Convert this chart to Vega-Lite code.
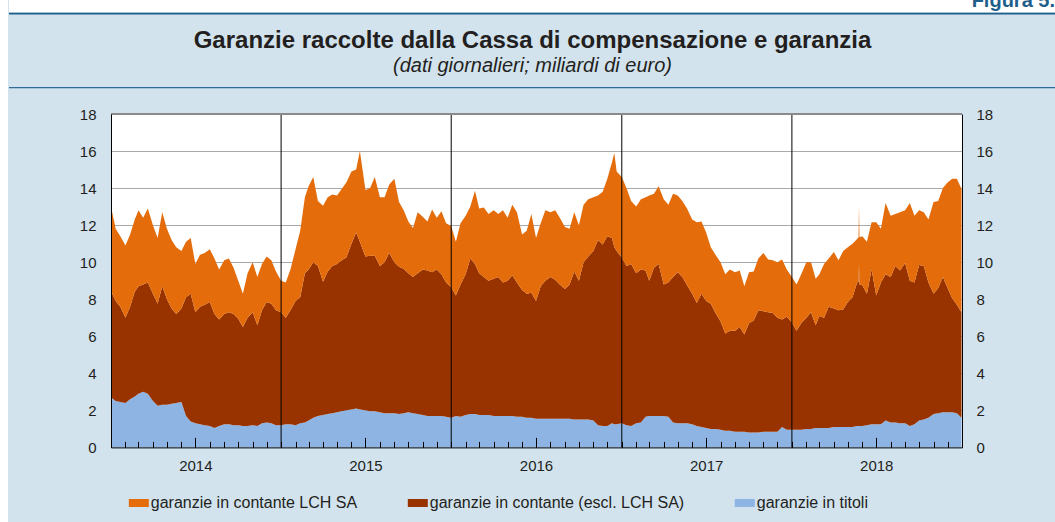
{
  "$schema": "https://vega.github.io/schema/vega-lite/v6.json",
  "background": "#d2e3ee",
  "padding": 0,
  "spacing": 0,
  "config": {
    "font": "Liberation Sans",
    "view": {"stroke": null},
    "axis": {"labelFont": "Liberation Sans", "labelFontSize": 15, "labelColor": "#231f20"},
    "legend": {"labelFont": "Liberation Sans"}
  },
  "hconcat": [
    {
      "width": 8,
      "height": 522,
      "data": {"values": [{}]},
      "mark": {"type": "rect", "color": "white"},
      "encoding": {}
    },
    {
      "columns": 1,
      "spacing": 0,
      "concat": [
        {
          "width": 945,
          "height": 12,
          "data": {"values": [{}]},
          "layer": [
            {
              "mark": {"type": "rect", "color": "white"},
              "encoding": {
                "x": {"datum": 0, "type": "quantitative", "scale": {"domain": [0, 1047], "range": [-102, 945], "nice": false, "zero": false}, "axis": null},
                "x2": {"datum": 1047}
              }
            },
            {
              "mark": {"type": "text", "text": "Figura 5.", "fontSize": 20, "fontWeight": "bold", "color": "#1f5f8b", "align": "right", "baseline": "alphabetic", "clip": true, "dx": -1},
              "encoding": {
                "x": {"datum": 1047, "type": "quantitative", "axis": null},
                "y": {"datum": 5, "type": "quantitative", "scale": {"domain": [0, 12], "nice": false}, "axis": null}
              }
            }
          ]
        },
        {
          "width": 945,
          "height": 93.8,
          "data": {"values": [{}]},
          "layer": [
            {
              "mark": {"type": "rule", "color": "#1f5f8b", "strokeWidth": 1.8},
              "encoding": {
                "x": {"datum": 0, "type": "quantitative", "scale": {"domain": [0, 1047], "range": [-102, 945], "nice": false, "zero": false}, "axis": null},
                "x2": {"datum": 1047},
                "y": {"datum": 0.6, "type": "quantitative", "scale": {"domain": [0, 93.8], "range": [0, 93.8], "nice": false, "zero": false}, "axis": null}
              }
            },
            {
              "mark": {"type": "rule", "color": "#2f6d97", "strokeWidth": 1.3},
              "encoding": {
                "x": {"datum": 0, "type": "quantitative", "axis": null},
                "x2": {"datum": 1047},
                "y": {"datum": 74.7, "type": "quantitative", "axis": null}
              }
            },
            {
              "mark": {"type": "text", "text": "Garanzie raccolte dalla Cassa di compensazione e garanzia", "fontSize": 24, "fontWeight": "bold", "color": "#231f20", "align": "center", "baseline": "alphabetic"},
              "encoding": {
                "x": {"datum": 523.5, "type": "quantitative", "axis": null},
                "y": {"datum": 34.8, "type": "quantitative", "axis": null}
              }
            },
            {
              "mark": {"type": "text", "text": "(dati giornalieri; miliardi di euro)", "fontSize": 20, "fontStyle": "italic", "color": "#231f20", "align": "center", "baseline": "alphabetic"},
              "encoding": {
                "x": {"datum": 523.5, "type": "quantitative", "axis": null},
                "y": {"datum": 58.8, "type": "quantitative", "axis": null}
              }
            }
          ]
        },
        {
          "width": 851,
          "height": 333.4,
          "view": {"fill": "white", "stroke": null},
          "layer": [
            {
              "data": {"values": [
                {"d":"2014-01-01","a":2.7,"b":5.75,"c":4.55},
                {"d":"2014-01-11","a":2.5,"b":5.4,"c":3.9},
                {"d":"2014-01-21","a":2.45,"b":5.15,"c":3.8},
                {"d":"2014-02-01","a":2.4,"b":4.6,"c":3.9},
                {"d":"2014-02-11","a":2.6,"b":5.0,"c":3.9},
                {"d":"2014-02-21","a":2.75,"b":5.65,"c":3.9},
                {"d":"2014-03-01","a":2.9,"b":5.8,"c":4.1},
                {"d":"2014-03-11","a":3.0,"b":5.8,"c":3.6},
                {"d":"2014-03-21","a":2.9,"b":6.0,"c":4.0},
                {"d":"2014-04-01","a":2.5,"b":5.8,"c":3.7},
                {"d":"2014-04-11","a":2.25,"b":5.5,"c":3.55},
                {"d":"2014-04-21","a":2.3,"b":6.4,"c":4.0},
                {"d":"2014-05-01","a":2.3,"b":5.7,"c":3.8},
                {"d":"2014-05-11","a":2.35,"b":5.15,"c":3.7},
                {"d":"2014-05-21","a":2.4,"b":4.8,"c":3.6},
                {"d":"2014-06-01","a":2.45,"b":5.05,"c":3.1},
                {"d":"2014-06-11","a":1.7,"b":6.4,"c":3.0},
                {"d":"2014-06-21","a":1.4,"b":6.9,"c":3.0},
                {"d":"2014-07-01","a":1.3,"b":6.0,"c":2.6},
                {"d":"2014-07-11","a":1.25,"b":6.35,"c":2.8},
                {"d":"2014-07-21","a":1.2,"b":6.5,"c":2.8},
                {"d":"2014-08-01","a":1.15,"b":6.7,"c":2.85},
                {"d":"2014-08-11","a":1.05,"b":6.15,"c":3.0},
                {"d":"2014-08-21","a":1.15,"b":5.75,"c":2.7},
                {"d":"2014-09-01","a":1.25,"b":5.95,"c":2.9},
                {"d":"2014-09-11","a":1.25,"b":6.05,"c":2.9},
                {"d":"2014-09-21","a":1.2,"b":6.0,"c":2.5},
                {"d":"2014-10-01","a":1.2,"b":5.75,"c":2.05},
                {"d":"2014-10-11","a":1.15,"b":5.35,"c":1.8},
                {"d":"2014-10-21","a":1.15,"b":5.85,"c":2.4},
                {"d":"2014-11-01","a":1.2,"b":6.1,"c":2.7},
                {"d":"2014-11-11","a":1.15,"b":5.45,"c":2.6},
                {"d":"2014-11-21","a":1.3,"b":6.1,"c":2.5},
                {"d":"2014-12-01","a":1.35,"b":6.5,"c":2.45},
                {"d":"2014-12-11","a":1.3,"b":6.45,"c":2.35},
                {"d":"2014-12-21","a":1.2,"b":6.2,"c":2.1},
                {"d":"2015-01-01","a":1.2,"b":6.1,"c":1.7},
                {"d":"2015-01-11","a":1.25,"b":5.75,"c":1.9},
                {"d":"2015-01-21","a":1.25,"b":6.15,"c":2.2},
                {"d":"2015-02-01","a":1.2,"b":6.7,"c":2.8},
                {"d":"2015-02-11","a":1.3,"b":6.8,"c":3.6},
                {"d":"2015-02-21","a":1.35,"b":8.05,"c":4.1},
                {"d":"2015-03-01","a":1.45,"b":8.15,"c":4.5},
                {"d":"2015-03-11","a":1.6,"b":8.4,"c":4.6},
                {"d":"2015-03-21","a":1.7,"b":8.1,"c":3.5},
                {"d":"2015-04-01","a":1.75,"b":7.2,"c":4.1},
                {"d":"2015-04-11","a":1.8,"b":7.7,"c":4.0},
                {"d":"2015-04-21","a":1.85,"b":7.95,"c":3.85},
                {"d":"2015-05-01","a":1.9,"b":8.0,"c":3.7},
                {"d":"2015-05-11","a":1.95,"b":8.15,"c":3.85},
                {"d":"2015-05-21","a":2.0,"b":8.25,"c":4.05},
                {"d":"2015-06-01","a":2.05,"b":8.95,"c":3.9},
                {"d":"2015-06-11","a":2.1,"b":9.5,"c":3.4},
                {"d":"2015-06-19","a":2.05,"b":9.05,"c":4.9},
                {"d":"2015-07-01","a":2.0,"b":8.3,"c":3.6},
                {"d":"2015-07-11","a":1.95,"b":8.4,"c":3.65},
                {"d":"2015-07-21","a":1.95,"b":8.4,"c":4.25},
                {"d":"2015-08-01","a":1.9,"b":7.9,"c":3.7},
                {"d":"2015-08-11","a":1.85,"b":8.15,"c":3.5},
                {"d":"2015-08-21","a":1.85,"b":8.65,"c":3.7},
                {"d":"2015-09-01","a":1.85,"b":8.15,"c":4.5},
                {"d":"2015-09-11","a":1.8,"b":7.95,"c":3.5},
                {"d":"2015-09-21","a":1.85,"b":7.8,"c":3.15},
                {"d":"2015-10-01","a":1.9,"b":7.5,"c":2.8},
                {"d":"2015-10-11","a":1.85,"b":7.35,"c":2.65},
                {"d":"2015-10-21","a":1.8,"b":7.6,"c":3.3},
                {"d":"2015-11-01","a":1.75,"b":7.85,"c":2.85},
                {"d":"2015-11-11","a":1.7,"b":7.85,"c":2.65},
                {"d":"2015-11-21","a":1.7,"b":7.75,"c":3.4},
                {"d":"2015-12-01","a":1.7,"b":7.9,"c":2.8},
                {"d":"2015-12-11","a":1.7,"b":7.65,"c":3.4},
                {"d":"2015-12-21","a":1.65,"b":7.25,"c":3.2},
                {"d":"2016-01-01","a":1.6,"b":7.05,"c":3.3},
                {"d":"2016-01-11","a":1.7,"b":6.5,"c":2.9},
                {"d":"2016-01-21","a":1.65,"b":7.15,"c":3.3},
                {"d":"2016-02-01","a":1.75,"b":7.6,"c":3.15},
                {"d":"2016-02-11","a":1.8,"b":8.4,"c":2.8},
                {"d":"2016-02-21","a":1.8,"b":8.1,"c":3.95},
                {"d":"2016-03-01","a":1.75,"b":7.65,"c":3.5},
                {"d":"2016-03-11","a":1.75,"b":7.45,"c":3.75},
                {"d":"2016-03-21","a":1.75,"b":7.25,"c":3.6},
                {"d":"2016-04-01","a":1.7,"b":7.4,"c":3.7},
                {"d":"2016-04-11","a":1.7,"b":7.5,"c":3.4},
                {"d":"2016-04-21","a":1.7,"b":7.2,"c":3.9},
                {"d":"2016-05-01","a":1.7,"b":7.3,"c":3.4},
                {"d":"2016-05-11","a":1.7,"b":7.6,"c":3.8},
                {"d":"2016-05-21","a":1.65,"b":7.25,"c":3.8},
                {"d":"2016-06-01","a":1.65,"b":6.85,"c":3.0},
                {"d":"2016-06-11","a":1.6,"b":6.7,"c":3.4},
                {"d":"2016-06-21","a":1.6,"b":6.75,"c":4.25},
                {"d":"2016-07-01","a":1.55,"b":6.35,"c":3.4},
                {"d":"2016-07-11","a":1.55,"b":7.15,"c":3.4},
                {"d":"2016-07-21","a":1.55,"b":7.45,"c":3.8},
                {"d":"2016-08-01","a":1.55,"b":7.65,"c":3.5},
                {"d":"2016-08-11","a":1.55,"b":7.5,"c":3.75},
                {"d":"2016-08-21","a":1.55,"b":7.25,"c":3.6},
                {"d":"2016-09-01","a":1.55,"b":7.0,"c":3.35},
                {"d":"2016-09-11","a":1.55,"b":7.25,"c":3.0},
                {"d":"2016-09-21","a":1.5,"b":8.0,"c":3.2},
                {"d":"2016-10-01","a":1.5,"b":7.5,"c":3.0},
                {"d":"2016-10-11","a":1.5,"b":8.5,"c":3.1},
                {"d":"2016-10-21","a":1.5,"b":8.8,"c":3.1},
                {"d":"2016-11-01","a":1.45,"b":9.15,"c":2.9},
                {"d":"2016-11-11","a":1.2,"b":10.0,"c":2.4},
                {"d":"2016-11-21","a":1.15,"b":9.8,"c":2.85},
                {"d":"2016-12-01","a":1.15,"b":10.25,"c":3.1},
                {"d":"2016-12-11","a":1.3,"b":10.0,"c":4.1},
                {"d":"2016-12-16","a":1.25,"b":9.55,"c":5.1},
                {"d":"2016-12-21","a":1.25,"b":9.35,"c":4.3},
                {"d":"2017-01-01","a":1.3,"b":8.95,"c":4.35},
                {"d":"2017-01-11","a":1.2,"b":8.6,"c":4.2},
                {"d":"2017-01-21","a":1.15,"b":8.75,"c":3.4},
                {"d":"2017-02-01","a":1.3,"b":8.1,"c":3.6},
                {"d":"2017-02-11","a":1.35,"b":8.25,"c":3.8},
                {"d":"2017-02-21","a":1.65,"b":7.9,"c":3.95},
                {"d":"2017-03-01","a":1.7,"b":7.3,"c":4.6},
                {"d":"2017-03-11","a":1.7,"b":8.0,"c":4.0},
                {"d":"2017-03-21","a":1.7,"b":8.2,"c":4.2},
                {"d":"2017-04-01","a":1.7,"b":7.1,"c":4.6},
                {"d":"2017-04-11","a":1.65,"b":7.25,"c":4.2},
                {"d":"2017-04-21","a":1.35,"b":7.85,"c":4.5},
                {"d":"2017-05-01","a":1.3,"b":8.15,"c":4.15},
                {"d":"2017-05-11","a":1.3,"b":7.9,"c":4.1},
                {"d":"2017-05-21","a":1.3,"b":7.45,"c":4.15},
                {"d":"2017-06-01","a":1.25,"b":7.05,"c":4.0},
                {"d":"2017-06-11","a":1.15,"b":6.65,"c":4.35},
                {"d":"2017-06-21","a":1.1,"b":7.2,"c":3.9},
                {"d":"2017-07-01","a":1.05,"b":6.85,"c":3.7},
                {"d":"2017-07-11","a":1.0,"b":6.75,"c":3.05},
                {"d":"2017-07-21","a":1.0,"b":6.25,"c":3.15},
                {"d":"2017-08-01","a":0.95,"b":5.85,"c":3.2},
                {"d":"2017-08-11","a":0.9,"b":5.25,"c":3.2},
                {"d":"2017-08-21","a":0.9,"b":5.4,"c":3.3},
                {"d":"2017-09-01","a":0.85,"b":5.45,"c":3.15},
                {"d":"2017-09-11","a":0.85,"b":5.65,"c":3.05},
                {"d":"2017-09-21","a":0.85,"b":5.25,"c":2.6},
                {"d":"2017-10-01","a":0.8,"b":5.9,"c":2.75},
                {"d":"2017-10-11","a":0.8,"b":6.05,"c":2.65},
                {"d":"2017-10-21","a":0.8,"b":6.6,"c":2.8},
                {"d":"2017-11-01","a":0.85,"b":6.5,"c":3.15},
                {"d":"2017-11-11","a":0.85,"b":6.45,"c":2.85},
                {"d":"2017-11-21","a":0.85,"b":6.4,"c":2.85},
                {"d":"2017-12-01","a":0.85,"b":6.15,"c":3.0},
                {"d":"2017-12-11","a":1.1,"b":5.8,"c":3.25},
                {"d":"2017-12-21","a":0.95,"b":6.1,"c":2.55},
                {"d":"2018-01-01","a":0.95,"b":5.8,"c":2.45},
                {"d":"2018-01-11","a":0.95,"b":5.35,"c":2.5},
                {"d":"2018-01-21","a":0.95,"b":5.75,"c":2.65},
                {"d":"2018-02-01","a":1.0,"b":6.0,"c":3.0},
                {"d":"2018-02-11","a":1.0,"b":6.3,"c":2.7},
                {"d":"2018-02-21","a":1.05,"b":5.55,"c":2.5},
                {"d":"2018-03-01","a":1.05,"b":6.05,"c":2.25},
                {"d":"2018-03-11","a":1.05,"b":5.95,"c":2.9},
                {"d":"2018-03-21","a":1.05,"b":6.55,"c":2.6},
                {"d":"2018-04-01","a":1.1,"b":6.4,"c":3.05},
                {"d":"2018-04-11","a":1.1,"b":6.3,"c":2.7},
                {"d":"2018-04-21","a":1.1,"b":6.35,"c":3.15},
                {"d":"2018-05-01","a":1.1,"b":6.75,"c":2.95},
                {"d":"2018-05-11","a":1.1,"b":7.0,"c":2.9},
                {"d":"2018-05-21","a":1.15,"b":7.75,"c":2.35},
                {"d":"2018-05-24","a":1.15,"b":7.8,"c":2.4},
                {"d":"2018-05-25","a":1.15,"b":8.75,"c":3.15},
                {"d":"2018-05-26","a":1.15,"b":7.65,"c":2.55},
                {"d":"2018-06-01","a":1.15,"b":7.6,"c":2.65},
                {"d":"2018-06-11","a":1.2,"b":7.1,"c":2.8},
                {"d":"2018-06-21","a":1.25,"b":8.35,"c":2.55},
                {"d":"2018-07-01","a":1.25,"b":6.95,"c":3.95},
                {"d":"2018-07-11","a":1.25,"b":7.65,"c":2.9},
                {"d":"2018-07-21","a":1.45,"b":7.9,"c":3.85},
                {"d":"2018-08-01","a":1.35,"b":7.85,"c":3.3},
                {"d":"2018-08-11","a":1.35,"b":8.45,"c":2.8},
                {"d":"2018-08-21","a":1.3,"b":8.25,"c":3.15},
                {"d":"2018-09-01","a":1.3,"b":8.65,"c":2.85},
                {"d":"2018-09-11","a":1.15,"b":7.85,"c":4.2},
                {"d":"2018-09-21","a":1.25,"b":7.65,"c":3.6},
                {"d":"2018-10-01","a":1.45,"b":8.4,"c":2.95},
                {"d":"2018-10-11","a":1.5,"b":8.3,"c":2.9},
                {"d":"2018-10-21","a":1.6,"b":7.3,"c":3.4},
                {"d":"2018-11-01","a":1.8,"b":6.5,"c":4.95},
                {"d":"2018-11-11","a":1.85,"b":6.75,"c":4.7},
                {"d":"2018-11-21","a":1.9,"b":7.3,"c":4.8},
                {"d":"2018-12-01","a":1.9,"b":6.7,"c":5.7},
                {"d":"2018-12-11","a":1.9,"b":6.15,"c":6.45},
                {"d":"2018-12-21","a":1.85,"b":5.85,"c":6.8},
                {"d":"2018-12-31","a":1.6,"b":5.7,"c":6.65}
              ]},
              "transform": [{"fold": ["a", "b", "c"], "as": ["k", "v"]}],
              "mark": {"type": "area", "interpolate": "linear"},
              "encoding": {
                "x": {
                  "field": "d", "type": "temporal",
                  "scale": {"type": "utc", "domain": [{"year": 2014, "month": 1, "date": 1, "utc": true}, {"year": 2019, "month": 1, "date": 1, "utc": true}]},
                  "axis": {"orient": "bottom", "title": null, "tickCount": {"interval": "month", "step": 1}, "tickSize": -6, "tickColor": "black", "tickWidth": 1, "labels": false, "domain": true, "domainColor": "black", "domainWidth": 1, "grid": false, "zindex": 1}
                },
                "y": {
                  "field": "v", "type": "quantitative", "stack": "zero",
                  "scale": {"domain": [0, 18], "nice": false},
                  "axis": {"orient": "left", "title": null, "values": [0, 2, 4, 6, 8, 10, 12, 14, 16, 18], "ticks": false, "labelPadding": 15, "domain": true, "domainColor": "black", "domainWidth": 1, "grid": false, "minExtent": 102, "maxExtent": 200, "zindex": 1}
                },
                "color": {
                  "field": "k", "type": "nominal",
                  "scale": {"domain": ["c", "b", "a"], "range": ["#e46c0a", "#983300", "#8db4e2"]},
                  "legend": {
                    "orient": "none", "legendX": 128.8, "legendY": 493, "direction": "horizontal", "title": null,
                    "symbolType": "M-1,-0.4H1V0.4H-1Z", "symbolSize": 400, "symbolStrokeWidth": 0,
                    "labelFontSize": 16, "labelColor": "#231f20", "labelOffset": 2, "labelLimit": 400, "columnPadding": 50,
                    "labelExpr": "datum.label == 'c' ? 'garanzie in contante LCH SA' : datum.label == 'b' ? 'garanzie in contante (escl. LCH SA)' : 'garanzie in titoli'"
                  }
                },
                "order": {"field": "k", "sort": "ascending"}
              }
            },
            {
              "data": {"values": [{"d": "2015-01-01"}, {"d": "2016-01-01"}, {"d": "2017-01-01"}, {"d": "2018-01-01"}]},
              "mark": {"type": "rule", "color": "black", "strokeWidth": 1},
              "encoding": {
                "x": {
                  "field": "d", "type": "temporal", "scale": {"type": "utc"},
                  "axis": {"orient": "bottom", "title": null, "values": [{"year": 2014, "month": 7, "date": 1, "utc": true}, {"year": 2015, "month": 7, "date": 1, "utc": true}, {"year": 2016, "month": 7, "date": 1, "utc": true}, {"year": 2017, "month": 7, "date": 1, "utc": true}, {"year": 2018, "month": 7, "date": 1, "utc": true}], "labelExpr": "utcFormat(datum.value, '%Y')", "tickSize": -10, "tickColor": "black", "tickWidth": 1, "labelPadding": 21, "domain": false, "grid": false, "labelOverlap": false, "zindex": 1}
                },
                "y": {
                  "datum": 0, "type": "quantitative",
                  "axis": {"orient": "right", "title": null, "values": [0, 2, 4, 6, 8, 10, 12, 14, 16, 18], "ticks": false, "labelPadding": 14, "domain": true, "domainColor": "black", "domainWidth": 1, "grid": false, "zindex": 1}
                },
                "y2": {"datum": 18}
              }
            },
            {
              "data": {"values": [{}]},
              "mark": {"type": "rule", "color": "#8a8a8a", "strokeWidth": 2},
              "encoding": {
                "y": {
                  "datum": 18, "type": "quantitative",
                  "axis": {"orient": "left", "title": null, "values": [2, 4, 6, 8, 10, 12, 14, 16], "grid": true, "gridColor": "#a9a9a9", "gridWidth": 1, "labels": false, "ticks": false, "domain": false, "zindex": 0}
                }
              }
            }
          ],
          "resolve": {"axis": {"x": "independent", "y": "independent"}}
        }
      ]
    }
  ]
}
